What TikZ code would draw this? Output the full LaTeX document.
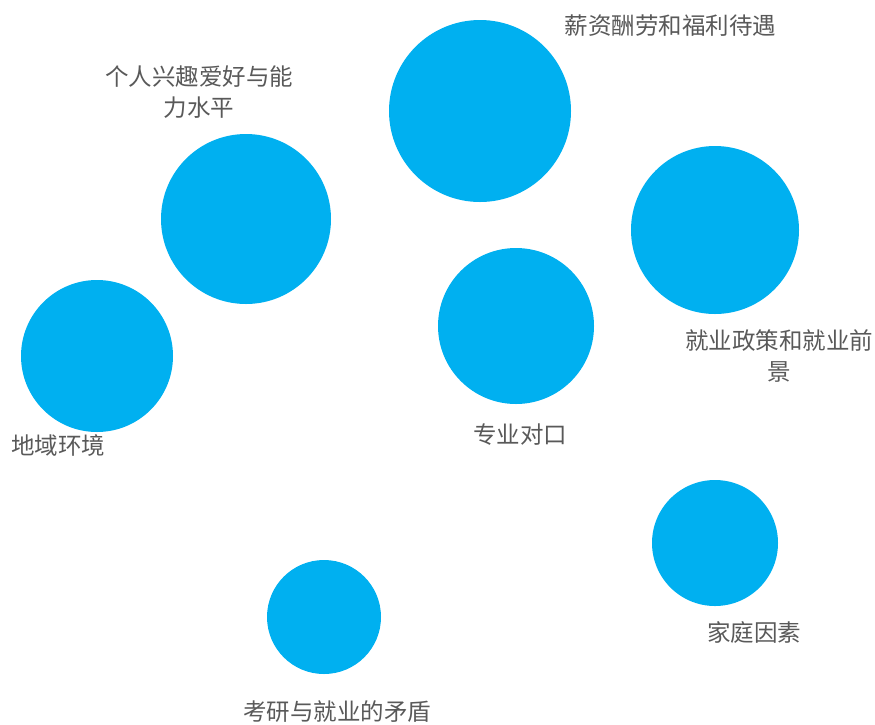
\documentclass[tikz,border=0pt]{standalone}
\usepackage{fontspec}
\newfontfamily\cjk{Noto Sans CJK SC}
\definecolor{bub}{HTML}{00B0F0}
\definecolor{txt}{HTML}{595959}
\begin{document}
\begin{tikzpicture}[x=1pt,y=-1pt,
  bubble/.style={circle,fill=bub,draw=none,inner sep=0pt},
  lab/.style={text=txt,font=\cjk\fontsize{23.5}{31}\selectfont,inner sep=0pt,align=center,anchor=center}]
\useasboundingbox (0,0) rectangle (875,724);
\node[bubble,minimum size=182] (b1) at (480,111) {};
\node[bubble,minimum size=170] (b2) at (246,219) {};
\node[bubble,minimum size=168] (b3) at (715,230) {};
\node[bubble,minimum size=156] (b4) at (516,326) {};
\node[bubble,minimum size=152] (b5) at (97,356) {};
\node[bubble,minimum size=126] (b6) at (715,543) {};
\node[bubble,minimum size=114] (b7) at (324,617) {};
\node[lab] (l1) at (670.5,26) {薪资酬劳和福利待遇};
\node[lab] (l2) at (199,92.5) {个人兴趣爱好与能\\力水平};
\node[lab] (l3) at (779,356.5) {就业政策和就业前\\景};
\node[lab] (l4) at (520,435) {专业对口};
\node[lab] (l5) at (58,446) {地域环境};
\node[lab] (l6) at (754,632) {家庭因素};
\node[lab] (l7) at (337,712) {考研与就业的矛盾};
\end{tikzpicture}
\end{document}
